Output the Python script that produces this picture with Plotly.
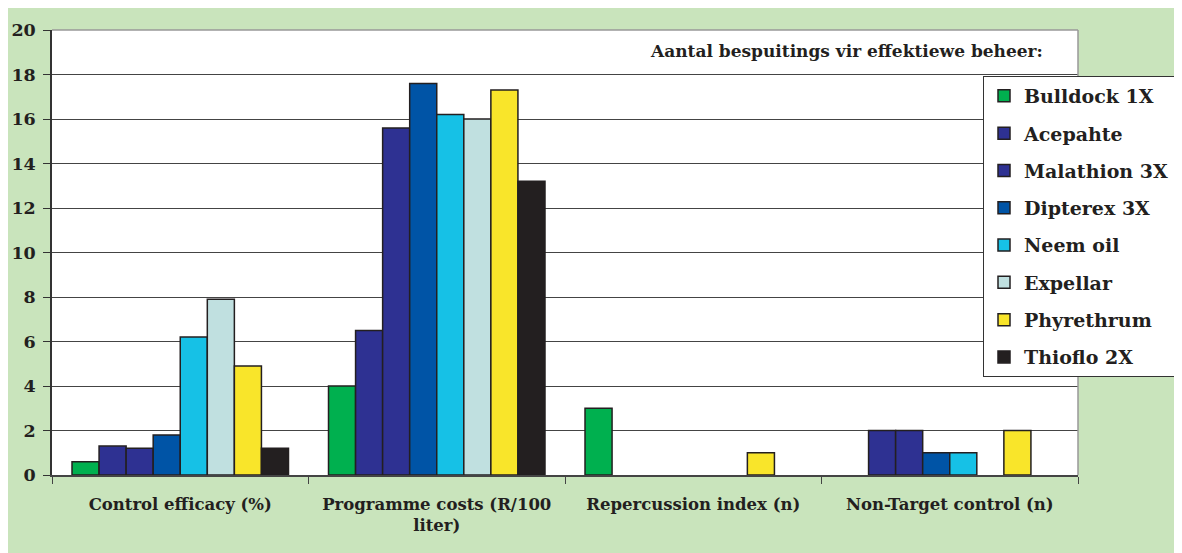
import plotly.graph_objects as go

categories = ["Control efficacy (%)", "Programme costs (R/100<br>liter)",
              "Repercussion index (n)", "Non-Target control (n)"]

series_names = ["Bulldock 1X", "Acepahte", "Malathion 3X", "Dipterex 3X",
                "Neem oil", "Expellar", "Phyrethrum", "Thioflo 2X"]

# None = no bar drawn (zero)
bulldock = [0.6, 4.0, 3, None]
acepahte = [1.3, 6.5, None, 2]
malathion = [1.2, 15.6, None, 2]
dipterex = [1.8, 17.6, None, 1]
neem = [6.2, 16.2, None, 1]
expellar = [7.9, 16.0, None, None]
phyrethrum = [4.9, 17.3, 1, 2]
thioflo = [1.2, 13.2, None, None]

series_values = [bulldock, acepahte, malathion, dipterex, neem, expellar, phyrethrum, thioflo]
colors = ["#00B04F", "#2E3192", "#2E3192", "#0054A6", "#16C1E6", "#C0E0E0", "#F9E52A", "#231F20"]

y_ticks = [0, 2, 4, 6, 8, 10, 12, 14, 16, 18, 20]

FONT = "DejaVu Serif"
INK = "#231F20"
GREEN_BG = "#C9E4BC"

# page has an 8px body margin; figure is made larger than the window so green fills to the edges
OFF = 8
W, H = 1200, 570
L, R, T, B = 52 - OFF, 1078 - OFF, 30 - OFF, 475 - OFF


def px_x(p):
    return (p - OFF - L) / (R - L)


def px_y(p):
    return 1 - (p - OFF - T) / (B - T)


fig = go.Figure()
for name, vals, col in zip(series_names, series_values, colors):
    fig.add_trace(go.Bar(
        name=name, x=categories, y=vals,
        marker=dict(color=col, line=dict(color=INK, width=1.5)),
        legendgroup=name,
    ))

fig.update_layout(
    width=W, height=H,
    margin=dict(l=L, r=W - R, t=T, b=H - B, autoexpand=False),
    paper_bgcolor=GREEN_BG,
    plot_bgcolor="white",
    barmode="group",
    bargap=0.156,
    bargroupgap=0,
    font=dict(family=FONT, color=INK, size=16, weight="bold"),
    legend=dict(
        x=px_x(983), y=px_y(76), xanchor="left", yanchor="top",
        bgcolor="white", bordercolor="#333333", borderwidth=1,
        font=dict(family=FONT, size=19, color=INK, weight="bold"),
        tracegroupgap=9.6,
        itemclick=False,
    ),
    xaxis=dict(
        type="category",
        showline=True, linecolor="#444444", linewidth=1.5,
        ticks="outside", tickson="boundaries", ticklen=7, tickcolor="#444444",
        tickfont=dict(family=FONT, size=16.5, color=INK, weight="bold"),
        ticklabelstandoff=13,
        showgrid=False,
    ),
    yaxis=dict(
        range=[0, 20], tickvals=y_ticks,
        showline=True, linecolor="#333333", linewidth=1.5,
        ticks="outside", ticklen=7, tickcolor="#333333",
        ticklabelstandoff=4,
        gridcolor="#444444", gridwidth=1.3,
        tickfont=dict(family=FONT, size=17.5, color=INK, weight="bold"),
        zeroline=False,
    ),
    shapes=[
        dict(type="line", xref="paper", yref="paper", x0=0, x1=1, y0=1, y1=1,
             line=dict(color="#999999", width=1.5), layer="above"),
        dict(type="line", xref="paper", yref="paper", x0=1, x1=1, y0=0, y1=1,
             line=dict(color="#999999", width=1.5), layer="above"),
    ],
    annotations=[dict(
        text="Aantal bespuitings vir effektiewe beheer:",
        xref="paper", yref="paper", x=px_x(846), y=px_y(51),
        xanchor="center", yanchor="middle", showarrow=False,
        font=dict(family=FONT, size=17, color=INK, weight="bold"),
    )],
    showlegend=True,
)

fig.write_html(
    "out.html",
    post_script=(
        "document.documentElement.style.overflow='hidden';"
        "document.body.style.overflow='hidden';"
        "document.querySelectorAll('.plotly-graph-div').forEach(function(d){d.style.overflow='visible';});"
    ),
)
